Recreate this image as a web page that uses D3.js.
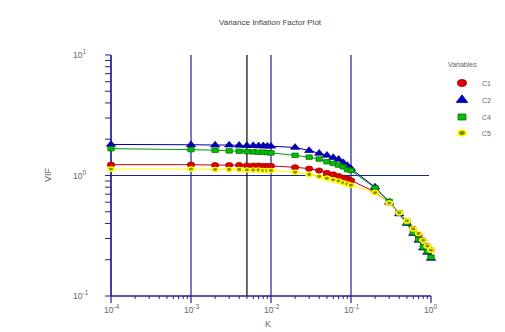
<!DOCTYPE html>
<html>
<head>
<meta charset="utf-8">
<script src="https://cdn.jsdelivr.net/npm/d3@7"></script>
<style>
  body { margin: 0; background: #fff; }
  text { font-family: "Liberation Sans", Arial, sans-serif; fill: #666; }
</style>
</head>
<body>
<svg id="chart" width="505" height="332"></svg>
<script>
// ridge parameter values
var kValues = [0.0001, 0.001, 0.002, 0.003, 0.004, 0.005, 0.006, 0.007, 0.008, 0.009, 0.01,
  0.02, 0.03, 0.04, 0.05, 0.06, 0.07, 0.08, 0.09, 0.1,
  0.2, 0.3, 0.4, 0.5, 0.6, 0.7, 0.8, 0.9, 1.0];

var c1 = [1.23, 1.23, 1.22, 1.22, 1.22, 1.21, 1.21, 1.21, 1.20, 1.20, 1.20,
  1.17, 1.14, 1.10, 1.05, 1.02, 0.99, 0.96, 0.94, 0.91,
  0.73, 0.59, 0.49, 0.42, 0.36, 0.32, 0.29, 0.26, 0.24];
var c2 = [1.81, 1.80, 1.79, 1.79, 1.78, 1.77, 1.77, 1.76, 1.76, 1.75, 1.75,
  1.71, 1.61, 1.53, 1.47, 1.41, 1.36, 1.28, 1.21, 1.14,
  0.80, 0.60, 0.48, 0.40, 0.33, 0.29, 0.25, 0.23, 0.205];
var c4 = [1.67, 1.64, 1.62, 1.60, 1.59, 1.58, 1.57, 1.56, 1.56, 1.55, 1.54,
  1.47, 1.42, 1.37, 1.30, 1.26, 1.22, 1.18, 1.12, 1.10,
  0.79, 0.61, 0.49, 0.405, 0.335, 0.295, 0.255, 0.235, 0.21];
var c5 = [1.13, 1.13, 1.12, 1.12, 1.12, 1.11, 1.11, 1.11, 1.10, 1.10, 1.10,
  1.065, 1.02, 0.98, 0.95, 0.92, 0.90, 0.87, 0.85, 0.83,
  0.72, 0.59, 0.49, 0.42, 0.36, 0.33, 0.29, 0.26, 0.24];

var seriesNames = ["C1", "C2", "C4", "C5"];
var xTickExps = [-4, -3, -2, -1, 0];
var yTickExps = [-1, 0, 1];
var chosenK = 0.005;

var series = [
  { name: "C1", values: c1, line: "#cc0000", fill: "#e00000", stroke: "#990000", shape: d3.symbolCircle, size: 30 },
  { name: "C2", values: c2, line: "#0000aa", fill: "#0000c0", stroke: "#000088", shape: d3.symbolTriangle, size: 26 },
  { name: "C4", values: c4, line: "#009900", fill: "#00c000", stroke: "#006600", shape: d3.symbolSquare, size: 28 },
  { name: "C5", values: c5, line: "#ffff00", fill: "#8a8a00", stroke: "#ffff00", shape: d3.symbolCircle, size: 20 }
];

var axisColor = "#1f1f96";
var svg = d3.select("#chart");
var pLeft = 111, pRight = 431, pTop = 55, pBottom = 296;

var x = d3.scaleLog().domain([1e-4, 1]).range([pLeft, pRight]);
var y = d3.scaleLog().domain([0.1, 10]).range([pBottom, pTop]);

// title and axis labels
svg.append("text").attr("x", 270).attr("y", 25).attr("text-anchor", "middle")
  .style("font-size", "8px").style("fill", "#444").text("Variance Inflation Factor Plot");
svg.append("text").attr("x", 268).attr("y", 327).attr("text-anchor", "middle")
  .style("font-size", "9px").text("K");
svg.append("text").attr("transform", "translate(51,175) rotate(-90)").attr("text-anchor", "middle")
  .style("font-size", "9px").text("VIF");

// minor ticks
var xMinor = [], yMinor = [];
for (var e = -4; e < 0; e++) for (var m = 2; m < 10; m++) xMinor.push(m * Math.pow(10, e));
for (var e2 = -1; e2 < 1; e2++) for (var m2 = 2; m2 < 10; m2++) yMinor.push(m2 * Math.pow(10, e2));

svg.selectAll(".xminor").data(xMinor).join("line")
  .attr("x1", d => x(d)).attr("x2", d => x(d)).attr("y1", pBottom).attr("y2", pBottom + 3)
  .attr("stroke", axisColor).attr("stroke-width", 1);
svg.selectAll(".ymajor").data(yTickExps).join("line")
  .attr("x1", pLeft - 6).attr("x2", pLeft).attr("y1", d => y(Math.pow(10, d))).attr("y2", d => y(Math.pow(10, d)))
  .attr("stroke", axisColor).attr("stroke-width", 1);
svg.selectAll(".yminor").data(yMinor).join("line")
  .attr("x1", pLeft - 6).attr("x2", pLeft).attr("y1", d => y(d)).attr("y2", d => y(d))
  .attr("stroke", axisColor).attr("stroke-width", 1);

// vertical reference lines at each decade
svg.selectAll(".vgrid").data(xTickExps.filter(d => d < 0)).join("line")
  .attr("x1", d => x(Math.pow(10, d))).attr("x2", d => x(Math.pow(10, d)))
  .attr("y1", pTop).attr("y2", pBottom + 7)
  .attr("stroke", axisColor).attr("stroke-width", 1.2);
svg.append("line").attr("x1", pRight).attr("x2", pRight).attr("y1", pBottom).attr("y2", pBottom + 7)
  .attr("stroke", axisColor).attr("stroke-width", 1.2);

// horizontal line at VIF = 1
svg.append("line").attr("x1", pLeft).attr("x2", pRight - 2).attr("y1", y(1)).attr("y2", y(1))
  .attr("stroke", axisColor).attr("stroke-width", 1.2);

// chosen k
svg.append("line").attr("x1", x(chosenK)).attr("x2", x(chosenK)).attr("y1", pTop).attr("y2", pBottom)
  .attr("stroke", "#000").attr("stroke-width", 1.2);

// axes lines
svg.append("line").attr("x1", pLeft).attr("x2", pLeft).attr("y1", pTop).attr("y2", pBottom)
  .attr("stroke", axisColor).attr("stroke-width", 1.3);
svg.append("line").attr("x1", pLeft).attr("x2", pRight).attr("y1", pBottom).attr("y2", pBottom)
  .attr("stroke", axisColor).attr("stroke-width", 1.3);

// tick labels
function powLabel(sel, exp) {
  sel.append("tspan").text("10");
  sel.append("tspan").attr("dy", "-4").style("font-size", "6.5px").text(exp);
}
xTickExps.forEach(function (d) {
  var t = svg.append("text").attr("x", x(Math.pow(10, d)) - 7).attr("y", 313)
    .style("font-size", "8.5px");
  powLabel(t, d);
});
yTickExps.forEach(function (d) {
  var t = svg.append("text").attr("x", 73).attr("y", y(Math.pow(10, d)) + 3)
    .style("font-size", "8.5px");
  powLabel(t, d);
});

// series
var line = d3.line().x((d, i) => x(kValues[i])).y(d => y(d));
series.forEach(function (s) {
  svg.append("path").datum(s.values).attr("d", line)
    .attr("fill", "none").attr("stroke", s.line).attr("stroke-width", 1);
});
series.forEach(function (s) {
  svg.selectAll(".pt-" + s.name).data(s.values).join("path")
    .attr("transform", (d, i) => `translate(${x(kValues[i])},${y(d)}) scale(1.2,0.85)`)
    .attr("d", d3.symbol().type(s.shape).size(s.size))
    .attr("fill", s.fill).attr("stroke", s.stroke).attr("stroke-width", s.name === "C5" ? 1.6 : 0.7);
});

// legend
svg.append("text").attr("x", 448).attr("y", 67).style("font-size", "7px").text("Variables");
var legendY = [83, 100, 117, 133];
series.forEach(function (s, i) {
  svg.append("path")
    .attr("transform", `translate(462,${legendY[i]}) scale(1.25,0.95)`)
    .attr("d", d3.symbol().type(s.shape).size(s.size + 12))
    .attr("fill", s.fill).attr("stroke", s.stroke).attr("stroke-width", s.name === "C5" ? 1.6 : 0.7);
  svg.append("text").attr("x", 482).attr("y", legendY[i] + 3).style("font-size", "7px").text(seriesNames[i]);
});
</script>
</body>
</html>
